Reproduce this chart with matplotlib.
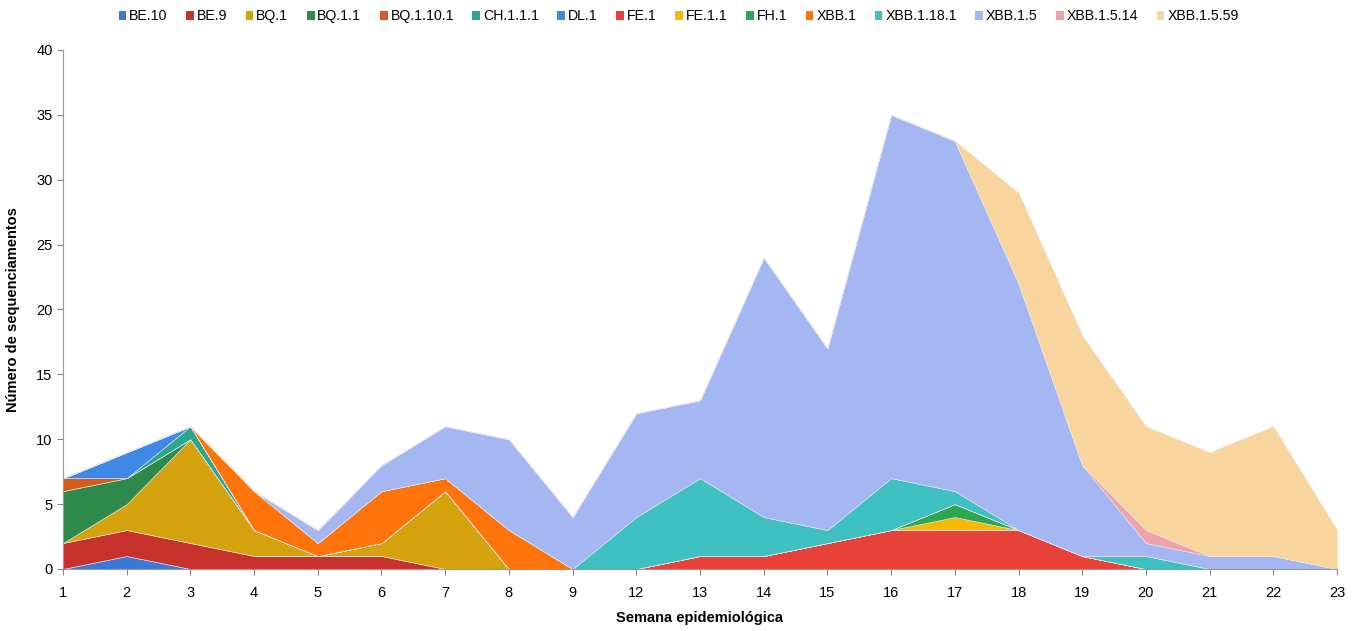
import numpy as np
import matplotlib
matplotlib.use('Agg')
import matplotlib.pyplot as plt
from matplotlib.patches import Patch

plt.rcParams['font.family'] = ['Liberation Sans', 'DejaVu Sans']

semanas = ['1', '2', '3', '4', '5', '6', '7', '8', '9', '12', '13', '14',
           '15', '16', '17', '18', '19', '20', '21', '22', '23']

linhagens = ['BE.10', 'BE.9', 'BQ.1', 'BQ.1.1', 'BQ.1.10.1', 'CH.1.1.1', 'DL.1',
             'FE.1', 'FE.1.1', 'FH.1', 'XBB.1', 'XBB.1.18.1', 'XBB.1.5',
             'XBB.1.5.14', 'XBB.1.5.59']

#            1  2  3  4  5  6  7  8  9 12 13  14  15  16  17  18 19 20 21 22 23
be_10      = [0, 1, 0, 0, 0, 0, 0, 0, 0, 0, 0,  0,  0,  0,  0,  0, 0, 0, 0, 0, 0]
be_9       = [2, 2, 2, 1, 1, 1, 0, 0, 0, 0, 0,  0,  0,  0,  0,  0, 0, 0, 0, 0, 0]
bq_1       = [0, 2, 8, 2, 0, 1, 6, 0, 0, 0, 0,  0,  0,  0,  0,  0, 0, 0, 0, 0, 0]
bq_1_1     = [4, 2, 0, 0, 0, 0, 0, 0, 0, 0, 0,  0,  0,  0,  0,  0, 0, 0, 0, 0, 0]
bq_1_10_1  = [1, 0, 0, 0, 0, 0, 0, 0, 0, 0, 0,  0,  0,  0,  0,  0, 0, 0, 0, 0, 0]
ch_1_1_1   = [0, 0, 1, 0, 0, 0, 0, 0, 0, 0, 0,  0,  0,  0,  0,  0, 0, 0, 0, 0, 0]
dl_1       = [0, 2, 0, 0, 0, 0, 0, 0, 0, 0, 0,  0,  0,  0,  0,  0, 0, 0, 0, 0, 0]
fe_1       = [0, 0, 0, 0, 0, 0, 0, 0, 0, 0, 1,  1,  2,  3,  3,  3, 1, 0, 0, 0, 0]
fe_1_1     = [0, 0, 0, 0, 0, 0, 0, 0, 0, 0, 0,  0,  0,  0,  1,  0, 0, 0, 0, 0, 0]
fh_1       = [0, 0, 0, 0, 0, 0, 0, 0, 0, 0, 0,  0,  0,  0,  1,  0, 0, 0, 0, 0, 0]
xbb_1      = [0, 0, 0, 3, 1, 4, 1, 3, 0, 0, 0,  0,  0,  0,  0,  0, 0, 0, 0, 0, 0]
xbb_1_18_1 = [0, 0, 0, 0, 0, 0, 0, 0, 0, 4, 6,  3,  1,  4,  1,  0, 0, 1, 0, 0, 0]
xbb_1_5    = [0, 0, 0, 0, 1, 2, 4, 7, 4, 8, 6, 20, 14, 28, 27, 19, 7, 1, 1, 1, 0]
xbb_1_5_14 = [0, 0, 0, 0, 0, 0, 0, 0, 0, 0, 0,  0,  0,  0,  0,  0, 0, 1, 0, 0, 0]
xbb_1_5_59 = [0, 0, 0, 0, 0, 0, 0, 0, 0, 0, 0,  0,  0,  0,  0,  7, 10, 8, 8, 10, 3]

cores = ['#3c78d8', '#c8322c', '#d4a20c', '#2e8a4a', '#d95a1a', '#2aa68f',
         '#3f88e6', '#e8413a', '#f6b800', '#2ea650', '#ff740a', '#3ec0c0',
         '#a4b7f3', '#f0a2ac', '#f8d59c']

valores = [be_10, be_9, bq_1, bq_1_1, bq_1_10_1, ch_1_1_1, dl_1, fe_1, fe_1_1,
           fh_1, xbb_1, xbb_1_18_1, xbb_1_5, xbb_1_5_14, xbb_1_5_59]

x = np.arange(len(semanas))

fig = plt.figure(figsize=(13.6, 6.31), dpi=100)
ax = fig.add_axes([0.0463, 0.0983, 0.9368, 0.8225])

ax.stackplot(x, *valores, colors=cores, linewidth=0.4, edgecolor='#e6e6e6')

ax.set_xlim(0, len(semanas) - 1)
ax.set_ylim(0, 40)
ax.set_yticks(range(0, 41, 5))
ax.set_xticks(x)
ax.set_xticklabels(semanas)
ax.tick_params(axis='both', labelsize=10.5, color='#888888', length=4)
ax.tick_params(axis='x', pad=8)
for s in ['top', 'right']:
    ax.spines[s].set_visible(False)
for s in ['left', 'bottom']:
    ax.spines[s].set_color('#999999')

ax.set_xlabel('Semana epidemiológica', fontsize=10.5, fontweight='bold', labelpad=8)
ax.set_ylabel('Número de sequenciamentos', fontsize=10.5, fontweight='bold', labelpad=12)

handles = [Patch(facecolor=c, edgecolor='none') for c in cores]
fig.legend(handles, linhagens, ncol=15, loc='center', bbox_to_anchor=(0.499, 0.974),
           frameon=False, fontsize=10.2, handlelength=0.55, handleheight=0.55,
           handletextpad=0.2, columnspacing=1.3)

fig.savefig('out.png', dpi=100)
